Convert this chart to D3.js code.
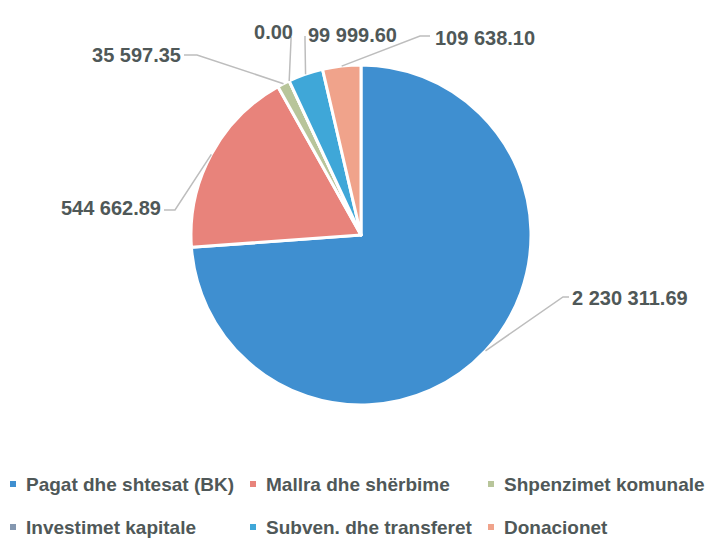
<!DOCTYPE html>
<html>
<head>
<meta charset="utf-8">
<script src="https://cdn.jsdelivr.net/npm/d3@7"></script>
<style>
  body { margin: 0; background: #fff; }
  text { font-family: "Liberation Sans", Arial, sans-serif; font-weight: bold; fill: #4f5858; }
</style>
</head>
<body>
<div class="chart"></div>
<script>
var svgWidth = 714;
var svgHeight = 539;

// data
var categories = [
  "Pagat dhe shtesat (BK)",
  "Mallra dhe shërbime",
  "Shpenzimet komunale",
  "Investimet kapitale",
  "Subven. dhe transferet",
  "Donacionet"
];
var values = [2230311.69, 544662.89, 35597.35, 0.00, 99999.60, 109638.10];
var valueLabels = ["2 230 311.69", "544 662.89", "35 597.35", "0.00", "99 999.60", "109 638.10"];
var colors = ["#3f8fd0", "#e8837b", "#b8c59a", "#8497b0", "#3fa7d8", "#f0a38b"];

// label layout: knee of leader line, end of leader line, text anchor
var labelLayout = [
  { knee: [563, 297], end: [569, 297], anchor: "start", dx: 3, dy: 1 },
  { knee: [175, 210], end: [164, 210], anchor: "end", dx: -3, dy: -2 },
  { knee: [197, 55], end: [184, 55], anchor: "end", dx: -3, dy: 0 },
  { knee: [291, 40], end: [291, 37], anchor: "end", dx: 2, dy: -5 },
  { knee: [305, 40], end: [305, 36], anchor: "start", dx: 3, dy: -1 },
  { knee: [420, 36], end: [430, 36], anchor: "start", dx: 5, dy: 2 }
];

var cx = 361, cy = 235, radius = 170;

var svg = d3.select(".chart")
  .append("svg")
  .attr("width", svgWidth)
  .attr("height", svgHeight);

var color = d3.scaleOrdinal().domain(categories).range(colors);

var pie = d3.pie().sort(null).value(d => d.value);
var arc = d3.arc().innerRadius(0).outerRadius(radius);

var data = categories.map((c, i) => ({ name: c, value: values[i], label: valueLabels[i], layout: labelLayout[i] }));
var arcs = pie(data);

var pieGroup = svg.append("g")
  .attr("transform", `translate(${cx}, ${cy})`);

pieGroup.selectAll("path")
  .data(arcs)
  .enter()
  .append("path")
  .attr("d", arc)
  .attr("fill", d => color(d.data.name))
  .attr("stroke", "#fff")
  .attr("stroke-width", 3)
  .attr("stroke-linejoin", "round");

// leader lines start on the rim at the middle angle of each slice
function rimPoint(d) {
  var a = (d.startAngle + d.endAngle) / 2;
  return [cx + radius * Math.sin(a), cy - radius * Math.cos(a)];
}

svg.append("g").selectAll("polyline")
  .data(arcs)
  .enter()
  .append("polyline")
  .attr("points", d => [rimPoint(d), d.data.layout.knee, d.data.layout.end].map(p => p.join(",")).join(" "))
  .attr("fill", "none")
  .attr("stroke", "#bdbdbd")
  .attr("stroke-width", 1.5);

svg.append("g").selectAll("text")
  .data(arcs)
  .enter()
  .append("text")
  .attr("x", d => d.data.layout.end[0] + d.data.layout.dx)
  .attr("y", d => d.data.layout.end[1] + d.data.layout.dy)
  .attr("dy", "0.35em")
  .attr("text-anchor", d => d.data.layout.anchor)
  .style("font-size", "20px")
  .text(d => d.data.label);

// legend, 3 columns, columns aligned
var legendCols = [10, 250, 488];
var legendRows = [484, 527];

var legend = svg.append("g").selectAll("g")
  .data(data)
  .enter()
  .append("g")
  .attr("transform", (d, i) => `translate(${legendCols[i % 3]}, ${legendRows[Math.floor(i / 3)]})`);

legend.append("rect")
  .attr("x", 0)
  .attr("y", -3)
  .attr("width", 6)
  .attr("height", 6)
  .attr("fill", d => color(d.name));

legend.append("text")
  .attr("x", 16)
  .attr("y", 0)
  .attr("dy", "0.35em")
  .style("font-size", "19px")
  .text(d => d.name);
</script>
</body>
</html>
